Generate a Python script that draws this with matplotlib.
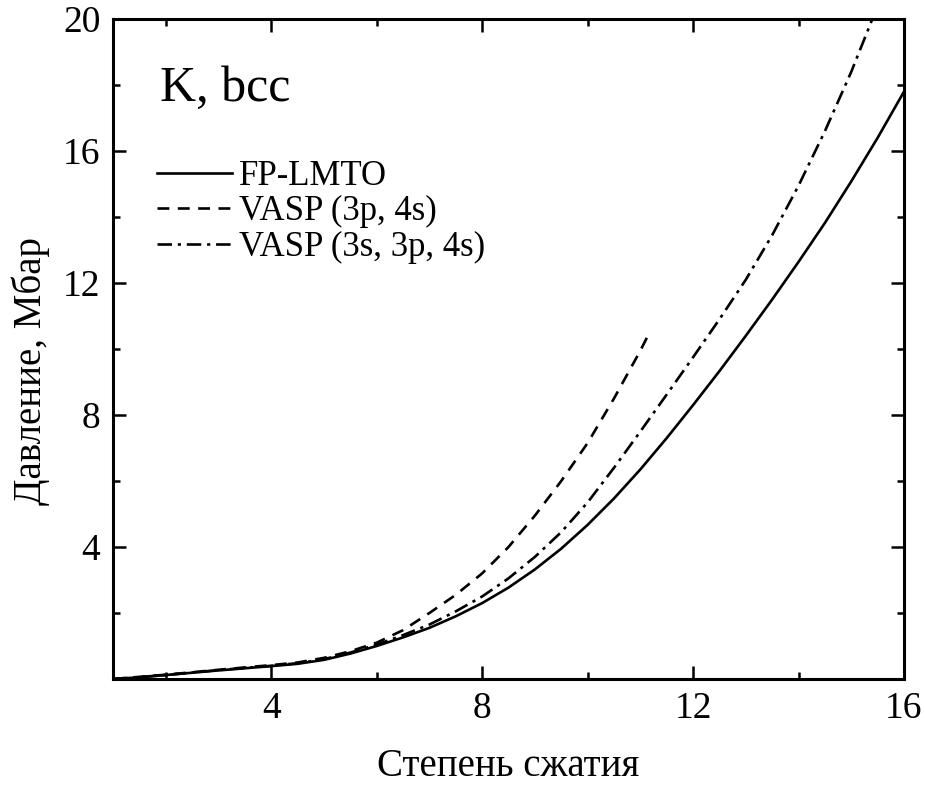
import numpy as np
from matplotlib import pyplot as plt
from matplotlib.ticker import MultipleLocator

# compression ratio (x) and pressure in Mbar (y)
x_lmto = [1.0, 1.5, 2.0, 3.0, 4.0, 4.5, 5.0, 5.5, 6.0, 6.5, 7.0, 7.5, 8.0, 8.5, 9.0, 9.5,
          10.0, 10.5, 11.0, 11.5, 12.0, 12.5, 13.0, 13.5, 14.0, 14.5, 15.0, 15.5, 16.0]
p_lmto = [0.0, 0.05, 0.12, 0.26, 0.39, 0.46, 0.58, 0.77, 1.0, 1.26, 1.55, 1.9, 2.3, 2.77, 3.32, 3.95,
          4.67, 5.47, 6.35, 7.3, 8.3, 9.33, 10.4, 11.5, 12.64, 13.82, 15.08, 16.4, 17.8]

x_vasp1 = [1.0, 2.0, 3.0, 4.0, 4.5, 5.0, 5.5, 6.0, 6.5, 7.0, 7.5, 8.0, 8.5, 9.0, 9.5,
           10.0, 10.5, 11.0, 11.13]
p_vasp1 = [0.0, 0.13, 0.28, 0.42, 0.5, 0.64, 0.84, 1.1, 1.48, 2.0, 2.55, 3.2, 4.0, 4.95, 6.0,
           7.15, 8.5, 9.95, 10.36]

x_vasp2 = [1.0, 2.0, 3.0, 4.0, 4.5, 5.0, 5.5, 6.0, 6.5, 7.0, 7.5, 8.0, 8.5, 9.0, 9.5,
           10.0, 10.5, 11.0, 11.5, 12.0, 12.5, 13.0, 13.5, 14.0, 14.5, 15.0, 15.45]
p_vasp2 = [0.0, 0.12, 0.27, 0.4, 0.48, 0.6, 0.8, 1.04, 1.33, 1.65, 2.05, 2.5, 3.05, 3.7, 4.45,
           5.35, 6.4, 7.5, 8.62, 9.75, 10.9, 12.1, 13.45, 14.95, 16.6, 18.4, 20.2]

labels = ["FP-LMTO", "VASP (3p, 4s)", "VASP (3s, 3p, 4s)"]

plt.rcParams['font.family'] = ['Liberation Serif', 'DejaVu Serif']

fig = plt.figure(figsize=(9.25, 7.87), dpi=100)
ax = fig.add_axes([113 / 925, 1 - 679 / 787, (904 - 113) / 925, (679 - 19) / 787])

lw = 1.9
ax.plot(x_lmto, p_lmto, color='black', lw=lw, ls='-', label=labels[0])
ax.plot(x_vasp1, p_vasp1, color='black', lw=lw, dashes=(4.5, 3.2), label=labels[1])
ax.plot(x_vasp2, p_vasp2, color='black', lw=lw, dashes=(5.5, 2.2, 1.2, 2.2), label=labels[2])

ax.set_xlim(1, 16)
ax.set_ylim(0, 20)
ax.set_xticks([4, 8, 12, 16])
ax.set_yticks([4, 8, 12, 16, 20])
ax.xaxis.set_minor_locator(MultipleLocator(2))
ax.yaxis.set_minor_locator(MultipleLocator(2))
ax.tick_params(which='both', direction='in', top=True, right=True, width=1.8, labelsize=27)
ax.tick_params(which='major', length=9.5, pad=9)
ax.tick_params(which='minor', length=5)
for s in ax.spines.values():
    s.set_linewidth(2.2)

ax.set_xlabel("Степень сжатия", fontsize=28, labelpad=16)
ax.set_ylabel("Давление, Мбар", fontsize=28)
ax.yaxis.set_label_coords((50 - 113) / 791, 1 - (371 - 19) / 660)

ax.text(160 / 925, 1 - 101 / 787, "K, bcc", transform=fig.transFigure, fontsize=36,
        va='baseline', ha='left')

leg = ax.legend(loc='upper left', bbox_to_anchor=(157 / 925, 1 - 160 / 787),
                bbox_transform=fig.transFigure, frameon=False, fontsize=25,
                handlelength=2.15, handletextpad=0.2, labelspacing=0.07, borderpad=0,
                borderaxespad=0)

fig.savefig("out.png", dpi=100)
